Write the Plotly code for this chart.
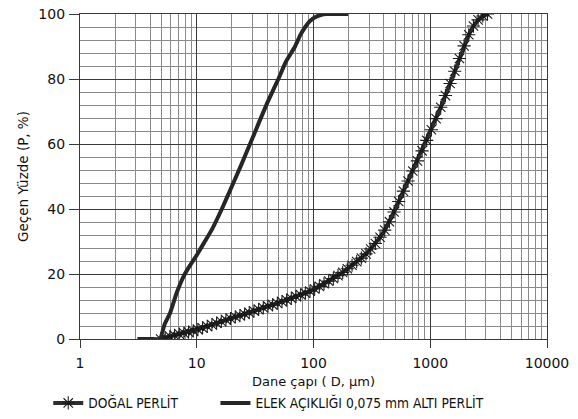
import plotly.graph_objects as go

# DOĞAL PERLİT (natural perlite) — particle size (µm) vs passing %
dogal_d = [4.90, 5.37, 5.89, 6.46, 7.08, 7.76, 8.51, 9.33, 10.23, 11.22, 12.30, 13.49,
           14.79, 16.22, 17.78, 19.50, 21.38, 23.44, 25.70, 28.18, 30.90, 33.88, 37.15,
           40.74, 44.67, 48.98, 53.70, 58.88, 64.57, 70.79, 77.62, 85.11, 93.33, 102.3,
           112.2, 123.0, 134.9, 147.9, 162.2, 177.8, 195.0, 213.8, 234.4, 257.0, 281.8,
           309.0, 338.8, 371.5, 407.4, 446.7, 489.8, 537.0, 588.8, 645.7, 707.9, 776.2,
           851.1, 933.3, 1023, 1122, 1230, 1349, 1479, 1622, 1778, 1950, 2138, 2344,
           2570, 2818, 3090]
dogal_p = [0.0, 0.4, 0.8, 1.1, 1.5, 1.8, 2.1, 2.5, 2.9, 3.4, 3.9, 4.4,
           4.9, 5.4, 5.9, 6.3, 6.8, 7.2, 7.7, 8.1, 8.6, 9.1, 9.6,
           10.1, 10.5, 11.0, 11.5, 12.0, 12.5, 13.1, 13.6, 14.1, 14.7, 15.4,
           16.2, 17.0, 17.8, 18.6, 19.5, 20.5, 21.6, 22.7, 23.8, 24.9, 26.2,
           27.7, 29.4, 31.3, 33.5, 36.1, 39.1, 42.3, 45.5, 48.6, 51.7, 54.8,
           57.9, 61.1, 64.4, 67.8, 71.3, 74.9, 78.6, 82.4, 86.3, 90.2, 93.6, 96.3,
           98.2, 99.4, 100.0]

# ELEK AÇIKLIĞI 0,075 mm ALTI PERLİT (perlite below 0.075 mm sieve)
elek_d = [3.1, 4.0, 4.85, 5.3, 5.9, 6.7, 7.7, 8.7, 10, 11.5, 13.4, 16.4, 20, 24, 28.6,
          34, 40, 50, 58, 69.5, 77, 85, 93, 103, 115, 130, 160, 198]
elek_p = [0, 0, 0, 4.5, 7.9, 14, 19.2, 22.5, 25.8, 29.5, 33.5, 40, 47, 53.5, 60,
          66.5, 72.5, 80, 85.3, 90, 93.5, 96, 97.8, 99, 99.7, 100, 100, 100]

x_ticks = [1, 10, 100, 1000, 10000]
x_tick_text = ["1", "10", "100", "1000", "10000"]
y_ticks = [0, 20, 40, 60, 80, 100]

FONT = "DejaVu Sans"
LEG_FONT = "DejaVu Sans Condensed"
MAJOR = "#3a3a3a"
MINOR = "#8a8a8a"

fig = go.Figure()
fig.add_trace(go.Scatter(
    x=dogal_d, y=dogal_p, mode="lines+markers", name="DOĞAL PERLİT",
    line=dict(color="#2e2e2e", width=4),
    marker=dict(symbol="asterisk-open", size=11, color="#1a1a1a",
                line=dict(color="#1a1a1a", width=1.1)),
    legend="legend",
))
fig.add_trace(go.Scatter(
    x=elek_d, y=elek_p, mode="lines", name="ELEK AÇIKLIĞI 0,075 mm ALTI PERLİT",
    line=dict(color="#262626", width=4, shape="spline", smoothing=0.3),
    legend="legend2",
))

leg_common = dict(orientation="h", y=-0.197, yanchor="middle", xanchor="left",
                  font=dict(family=LEG_FONT, size=13.7, color="#111"),
                  bgcolor="rgba(0,0,0,0)")
fig.update_layout(
    width=578, height=419,
    margin=dict(l=80, r=31, t=14, b=80, autoexpand=False),
    paper_bgcolor="white", plot_bgcolor="white",
    font=dict(family=FONT, size=14, color="#111"),
    showlegend=True,
    legend=dict(x=-0.068, **leg_common),
    legend2=dict(x=0.29, **leg_common),
)
fig.update_xaxes(
    type="log", range=[0, 4], automargin=False,
    tickvals=x_ticks, ticktext=x_tick_text,
    showgrid=True, gridcolor=MAJOR, gridwidth=1.3,
    minor=dict(dtick="D1", showgrid=True, gridcolor=MINOR, gridwidth=1, ticks=""),
    showline=True, linecolor=MAJOR, linewidth=1.3, mirror=True,
    ticks="outside", ticklen=8, tickcolor=MAJOR, ticklabelstandoff=3,
    zeroline=False,
    title=dict(text="Dane çapı ( D, µm)", font=dict(size=13, family=FONT), standoff=6),
)
fig.update_yaxes(
    range=[0, 100], tickvals=y_ticks, automargin=False,
    showgrid=True, gridcolor=MAJOR, gridwidth=1.3,
    minor=dict(dtick=4, showgrid=True, gridcolor=MINOR, gridwidth=1, ticks=""),
    showline=True, linecolor=MAJOR, linewidth=1.3, mirror=True,
    ticks="outside", ticklen=10, tickcolor=MAJOR, ticklabelstandoff=1,
    zeroline=False,
    title=dict(text="Geçen Yüzde (P, %)", font=dict(size=13.5, family=FONT), standoff=6),
)

# remove the default 8px page margin so the figure sits at the window origin
fig.write_html("out.html",
               config={"displayModeBar": False},
               post_script="document.body.style.margin='0';document.body.style.overflow='hidden';")
